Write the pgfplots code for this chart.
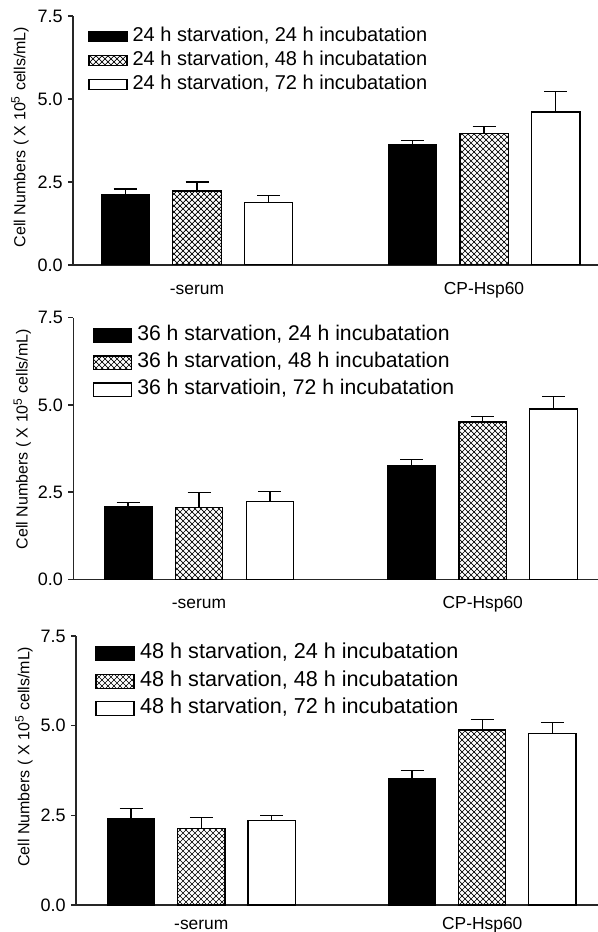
\documentclass[border=0pt]{standalone}
\usepackage{fontspec}
\setmainfont{Liberation Sans}
\usepackage{pgfplots}
\pgfplotsset{compat=1.18}
\usetikzlibrary{patterns}

% diagonal cross hatch for the 48 h bars
\pgfdeclarepatternformonly{dcross}{\pgfqpoint{-0.5pt}{-0.5pt}}{\pgfqpoint{3.5pt}{3.5pt}}{\pgfqpoint{3pt}{3pt}}{%
  \pgfsetlinewidth{0.35pt}%
  \pgfpathmoveto{\pgfqpoint{-0.1pt}{-0.1pt}}\pgfpathlineto{\pgfqpoint{3.1pt}{3.1pt}}%
  \pgfpathmoveto{\pgfqpoint{-0.1pt}{3.1pt}}\pgfpathlineto{\pgfqpoint{3.1pt}{-0.1pt}}%
  \pgfusepath{stroke}}

\pgfplotsset{
  cellaxis/.style={
    scale only axis, anchor=south west,
    ymin=0, ymax=7.5,
    axis x line*=bottom, axis y line*=left,
    axis line style={-, line width=0.7pt, black!85},
    ytick={0,2.5,5,7.5}, yticklabels={0.0,2.5,5.0,7.5},
    xtick={0,1}, xticklabels={-serum,CP-Hsp60},
    tick align=outside, major tick length=2.5pt,
    xtick style={draw=none},
    ytick style={line width=0.7pt, black!85},
    yticklabel style={font=\fontsize{9}{10}\selectfont, inner sep=0pt, xshift=-2.5pt},
    xticklabel style={font=\fontsize{8.7}{10}\selectfont, anchor=base, inner sep=0pt, yshift=-12.3pt},
    ylabel={Cell Numbers ( X 10\textsuperscript{5} cells/mL)},
    ybar, bar width=0.168,
    legend cell align=left,
  },
  lgd/.style={legend image code/.code={\draw[##1, line width=0.6pt] (0pt,-#1) rectangle (19pt,#1);}},
  errs/.style={error bars/.cd, y dir=plus, y explicit,
    error bar style={line width=0.6pt, black},
    error mark options={rotate=90, line width=0.6pt, black, mark size=5.75pt}},
  bk/.style={bar shift=0pt, fill=black, draw=black, line width=0.6pt, lgd=#1, errs},
  hx/.style={bar shift=0pt, pattern=dcross, draw=black, line width=0.6pt, lgd=#1, errs},
  wh/.style={bar shift=0pt, fill=white, draw=black, line width=0.6pt, lgd=#1, errs},
}

\begin{document}
\begin{tikzpicture}
\useasboundingbox (0,0) rectangle (299pt,466pt);

% ---- panel 1: 24 h starvation
\begin{axis}[cellaxis,
  at={(36.5pt,333.5pt)}, width=262.5pt, height=124.5pt,
  xmin=-0.432, xmax=1.397,
  every axis y label/.style={at={(axis description cs:0,0.514)}, xshift=-26.5pt, rotate=90, anchor=center, font=\fontsize{8}{9}\selectfont},
  legend style={at={(rel axis cs:0,1)}, anchor=north west, xshift=7.5pt, yshift=-5.5pt,
    draw=none, fill=none, inner sep=0pt, row sep=3pt, column sep=2.5pt,
    font=\fontsize{10}{12}\selectfont,
    nodes={inner sep=0pt, text height=7pt, text depth=2pt}},
]
\addplot[bk=2.6pt] coordinates {(-0.25,2.11) +- (0,0.18) (0.75,3.62) +- (0,0.14)};
\addplot[hx=2.6pt] coordinates {(0,2.23) +- (0,0.27) (1,3.95) +- (0,0.22)};
\addplot[wh=2.6pt] coordinates {(0.25,1.88) +- (0,0.22) (1.25,4.61) +- (0,0.61)};
\legend{{24 h starvation, 24 h incubatation}, {24 h starvation, 48 h incubatation}, {24 h starvation, 72 h incubatation}}
\end{axis}

% ---- panel 2: 36 h starvation
\begin{axis}[cellaxis,
  at={(36.65pt,176.35pt)}, width=262.35pt, height=130.8pt,
  xmin=-0.443, xmax=1.406,
  every axis y label/.style={at={(axis description cs:0,0.536)}, xshift=-25.5pt, rotate=90, anchor=center, font=\fontsize{8}{9}\selectfont},
  legend style={at={(rel axis cs:0,1)}, anchor=north west, xshift=9.7pt, yshift=-4.2pt,
    draw=none, fill=none, inner sep=0pt, row sep=4.5pt, column sep=2.5pt,
    font=\fontsize{10.6}{12}\selectfont,
    nodes={inner sep=0pt, text height=7pt, text depth=2pt}},
]
\addplot[bk=3.3pt] coordinates {(-0.25,2.07) +- (0,0.13) (0.75,3.27) +- (0,0.17)};
\addplot[hx=3.3pt] coordinates {(0,2.06) +- (0,0.42) (1,4.51) +- (0,0.15)};
\addplot[wh=3.3pt] coordinates {(0.25,2.22) +- (0,0.30) (1.25,4.88) +- (0,0.37)};
\legend{{36 h starvation, 24 h incubatation}, {36 h starvation, 48 h incubatation}, {36 h starvatioin, 72 h incubatation}}
\end{axis}

% ---- panel 3: 48 h starvation
\begin{axis}[cellaxis,
  at={(38pt,13.5pt)}, width=261pt, height=134.5pt,
  xmin=-0.446, xmax=1.412,
  xticklabel style={yshift=2.6pt},
  every axis y label/.style={at={(axis description cs:0,0.551)}, xshift=-26pt, rotate=90, anchor=center, font=\fontsize{8}{9}\selectfont},
  legend style={at={(rel axis cs:0,1)}, anchor=north west, xshift=9.5pt, yshift=-4.2pt,
    draw=none, fill=none, inner sep=0pt, row sep=4.7pt, column sep=2.8pt,
    font=\fontsize{10.8}{12}\selectfont,
    nodes={inner sep=0pt, text height=7pt, text depth=2pt}},
]
\addplot[bk=3.5pt] coordinates {(-0.25,2.42) +- (0,0.27) (0.75,3.53) +- (0,0.21)};
\addplot[hx=3.5pt] coordinates {(0,2.14) +- (0,0.29) (1,4.88) +- (0,0.29)};
\addplot[wh=3.5pt] coordinates {(0.25,2.36) +- (0,0.14) (1.25,4.79) +- (0,0.30)};
\legend{{48 h starvation, 24 h incubatation}, {48 h starvation, 48 h incubatation}, {48 h starvation, 72 h incubatation}}
\end{axis}
\end{tikzpicture}
\end{document}
